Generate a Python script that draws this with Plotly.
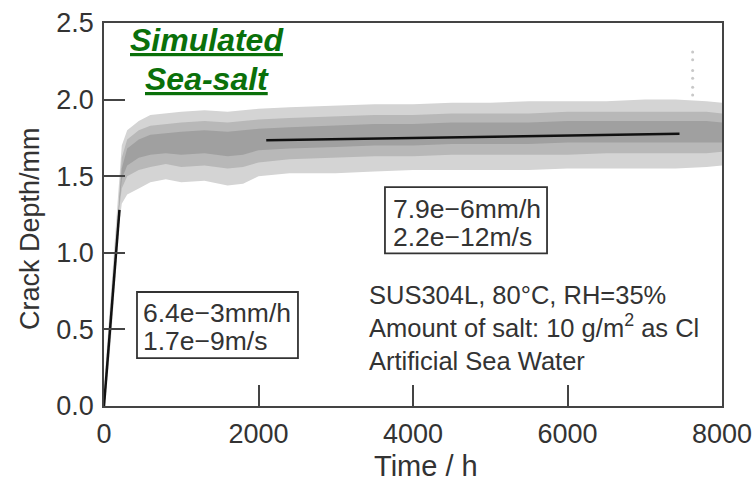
import plotly.graph_objects as go

# ---- data ----
# envelope of the measured crack-depth scatter cloud (time in h, depth in mm)
t_env = [0, 50, 100, 150, 200, 230, 300, 450, 600, 800, 1000, 1300, 1600, 1800, 2000,
         2400, 3000, 3500, 4000, 4500, 5000, 5500, 6000, 6500, 7000, 7400, 7800, 8000]
outer_hi = [0.12, 0.45, 0.78, 1.12, 1.50, 1.70, 1.80, 1.86, 1.90, 1.91, 1.92, 1.93, 1.92, 1.93, 1.94,
            1.95, 1.96, 1.97, 1.97, 1.98, 1.98, 1.99, 1.99, 1.99, 2.00, 2.00, 1.99, 1.98]
outer_lo = [0.00, 0.20, 0.50, 0.85, 1.20, 1.32, 1.38, 1.42, 1.46, 1.48, 1.46, 1.47, 1.44, 1.45, 1.50,
            1.52, 1.52, 1.53, 1.54, 1.54, 1.54, 1.54, 1.55, 1.55, 1.55, 1.55, 1.56, 1.57]
mid_hi = [0.07, 0.38, 0.70, 1.02, 1.40, 1.62, 1.74, 1.80, 1.83, 1.84, 1.85, 1.86, 1.85, 1.86, 1.87,
          1.88, 1.89, 1.90, 1.90, 1.91, 1.91, 1.91, 1.92, 1.92, 1.92, 1.92, 1.92, 1.91]
mid_lo = [0.00, 0.28, 0.58, 0.92, 1.30, 1.42, 1.50, 1.54, 1.56, 1.58, 1.56, 1.57, 1.55, 1.56, 1.59,
          1.61, 1.62, 1.63, 1.63, 1.64, 1.64, 1.64, 1.64, 1.65, 1.65, 1.65, 1.65, 1.66]
core_hi = [0.04, 0.35, 0.66, 0.98, 1.36, 1.55, 1.68, 1.74, 1.77, 1.78, 1.79, 1.80, 1.79, 1.80, 1.81,
           1.82, 1.83, 1.84, 1.84, 1.85, 1.85, 1.85, 1.86, 1.86, 1.86, 1.86, 1.86, 1.85]
core_lo = [0.00, 0.31, 0.62, 0.95, 1.33, 1.48, 1.57, 1.62, 1.64, 1.65, 1.64, 1.65, 1.63, 1.64, 1.67,
           1.68, 1.69, 1.70, 1.70, 1.71, 1.71, 1.71, 1.72, 1.72, 1.72, 1.72, 1.72, 1.72]

# isolated high readings near the end of the test
outlier_t = [7620, 7620, 7620, 7620, 7620, 7620]
outlier_v = [2.03, 2.08, 2.14, 2.19, 2.26, 2.31]

# fitted growth-rate lines
fit1_t = [0, 200]
fit1_v = [0.0, 1.28]
fit2_t = [2100, 7450]
fit2_v = [1.735, 1.777]

x_ticks = [0, 2000, 4000, 6000, 8000]
y_ticks = [0.0, 0.5, 1.0, 1.5, 2.0, 2.5]

rate1_lines = ["6.4e\u22123mm/h", "1.7e\u22129m/s"]
rate2_lines = ["7.9e\u22126mm/h", "2.2e\u221212m/s"]
title_lines = ["Simulated", "Sea-salt"]
cond_text = ("SUS304L, 80\u00b0C, RH=35%<br>Amount of salt: 10 g/m<sup>2</sup> as Cl"
             "<br>Artificial Sea Water")

FONT = "Liberation Sans, Arial, sans-serif"
AX = "#444444"
TXT = "#333333"

fig = go.Figure()

def band(lo, hi, color):
    fig.add_trace(go.Scatter(x=t_env, y=lo, mode="lines", line=dict(width=0),
                             hoverinfo="skip", showlegend=False))
    fig.add_trace(go.Scatter(x=t_env, y=hi, mode="lines", line=dict(width=0),
                             fill="tonexty", fillcolor=color, hoverinfo="skip", showlegend=False))

band(outer_lo, outer_hi, "#d4d4d4")
band(mid_lo, mid_hi, "#b8b8b8")
band(core_lo, core_hi, "#a0a0a0")

fig.add_trace(go.Scatter(x=outlier_t, y=outlier_v, mode="markers",
                         marker=dict(size=3, color="#c8c8c8"), showlegend=False))
fig.add_trace(go.Scatter(x=fit1_t, y=fit1_v, mode="lines",
                         line=dict(color="#111111", width=2.5), showlegend=False))
fig.add_trace(go.Scatter(x=fit2_t, y=fit2_v, mode="lines",
                         line=dict(color="#111111", width=2.5), showlegend=False))

axis_common = dict(showline=True, linecolor=AX, linewidth=1.5, mirror=True,
                   ticks="inside", ticklen=21, tickwidth=1.5, tickcolor=AX,
                   showgrid=False, zeroline=False, automargin=False,
                   tickfont=dict(family=FONT, size=27, color=TXT))

fig.update_layout(
    width=754, height=482,
    margin=dict(l=104, r=32, t=23, b=76),
    paper_bgcolor="white", plot_bgcolor="white",
    showlegend=False,
    font=dict(family=FONT, color=TXT),
    xaxis=dict(range=[0, 8000], tickvals=x_ticks, tickformat="d",
               ticklabelstandoff=3, **axis_common),
    yaxis=dict(range=[0, 2.5], tickvals=y_ticks, tickformat=".1f",
               ticklabelstandoff=3, **axis_common),
)

# axis titles
fig.add_annotation(x=0.521, y=-0.157, xref="paper", yref="paper", xanchor="center",
                   yanchor="middle", text="Time / h", showarrow=False,
                   font=dict(family=FONT, size=29, color=TXT))
fig.add_annotation(x=-0.1197, y=0.462, xref="paper", yref="paper", xanchor="center",
                   yanchor="middle", text="Crack Depth/mm", textangle=-90, showarrow=False,
                   font=dict(family=FONT, size=27, color=TXT))

# green heading
for txt, yv in zip(title_lines, [2.389, 2.134]):
    fig.add_annotation(x=1333, y=yv, xref="x", yref="y", xanchor="center", yanchor="middle",
                       text=txt, showarrow=False,
                       font=dict(family=FONT, size=32, color="#0a700a", weight="bold",
                                 style="italic", lineposition="under"))

# rate boxes
fig.add_shape(type="rect", x0=427, x1=2511, y0=0.313, y1=0.744, xref="x", yref="y",
              line=dict(color=TXT, width=1.8), fillcolor="rgba(0,0,0,0)")
fig.add_shape(type="rect", x0=3637, x1=5735, y0=0.996, y1=1.429, xref="x", yref="y",
              line=dict(color=TXT, width=1.8), fillcolor="rgba(0,0,0,0)")

for txt, yv in zip(rate1_lines, [0.610, 0.424]):
    fig.add_annotation(x=492, y=yv, xref="x", yref="y", xanchor="left", yanchor="middle",
                       text=txt, showarrow=False, borderpad=0,
                       font=dict(family=FONT, size=26.5, color=TXT))
for txt, yv in zip(rate2_lines, [1.289, 1.103]):
    fig.add_annotation(x=3728, y=yv, xref="x", yref="y", xanchor="left", yanchor="middle",
                       text=txt, showarrow=False, borderpad=0,
                       font=dict(family=FONT, size=26.5, color=TXT))

# test conditions
fig.add_annotation(x=3418, y=0.509, xref="x", yref="y", xanchor="left", yanchor="middle",
                   text=cond_text, showarrow=False, align="left", borderpad=0,
                   font=dict(family=FONT, size=25.5, color=TXT))

fig.write_html("out.html", config={"displayModeBar": False},
               post_script="document.body.style.margin='0px';document.body.style.padding='0px';")
